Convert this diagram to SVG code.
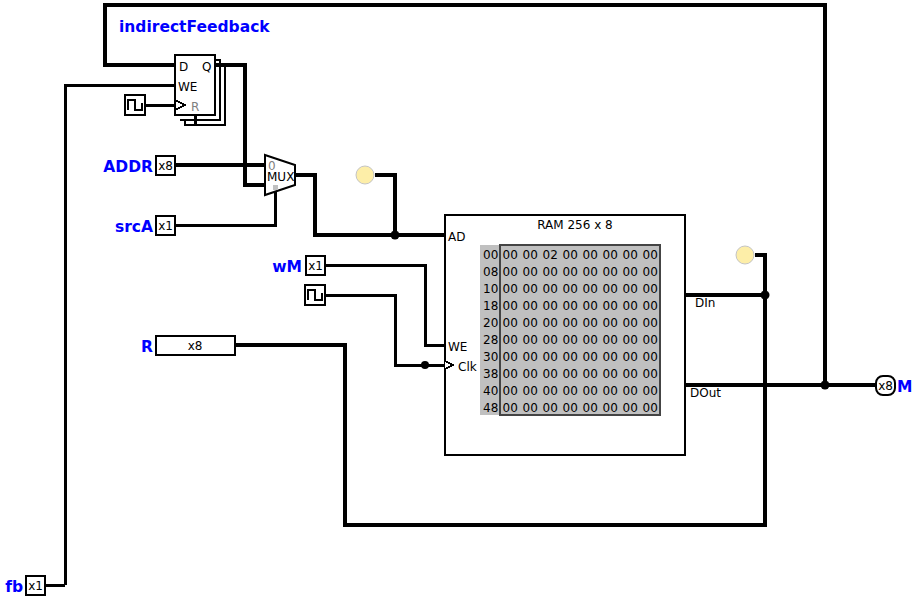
<svg xmlns="http://www.w3.org/2000/svg" width="918" height="601" viewBox="0 0 918 601">
<style>
.t{font-family:"DejaVu Sans",sans-serif;font-size:12px;fill:#000}
.m{text-anchor:middle}
.l{font-family:"DejaVu Sans",sans-serif;font-size:15.5px;fill:#0000ff;font-weight:700}
.e{text-anchor:end}
.mem{word-spacing:0.93px}
.b{fill:none;stroke:#000;stroke-width:4;shape-rendering:crispEdges}
.w{fill:none;stroke:#000;stroke-width:3;shape-rendering:crispEdges}
.box{fill:#fff;stroke:#000;stroke-width:2;shape-rendering:crispEdges}
.led{fill:#fdeea8;stroke:#c4c4c4;stroke-width:1}
.g{fill:#808080}
</style>
<defs>
<path id="clk" d="M3 15V5H10V15H17V8" fill="none" stroke="#000" stroke-width="2" shape-rendering="crispEdges"/>
</defs>
<g id="connectors">
<path class="b" d="M175 65H105V5H825V385"/>
<path class="b" d="M215 65H245V185H265"/>
<path class="w" d="M65 585V85H175"/>
<path class="w" d="M45 585H65"/>
<path class="w" d="M145 105H175"/>
<path class="b" d="M175 165H265"/>
<path class="w" d="M175 225H275V190"/>
<path class="b" d="M295 175H315V235H445"/>
<path class="b" d="M375 175H395V235"/>
<path class="w" d="M325 265H425V345H445"/>
<path class="w" d="M325 295H395V365H445"/>
<path class="b" d="M235 345H345V525H765V255H755"/>
<path class="b" d="M685 295H765"/>
<path class="b" d="M685 385H875"/>
<circle cx="395" cy="235" r="4.5"/>
<circle cx="425" cy="365" r="4"/>
<circle cx="765" cy="295" r="4.5"/>
<circle cx="825" cy="385" r="4.5"/>
</g>
<g id="indirectFeedback-label"><text class="l" x="119" y="32">indirectFeedback</text></g>
<g id="register">
<path class="w" d="M215 60H220V120H180M215 65H225V125H185V120" style="stroke-width:2"/>
<path d="M195 115V125" stroke="#000" stroke-width="3" fill="none" shape-rendering="crispEdges"/>
<rect class="box" x="175" y="55" width="40" height="60"/>
<path class="box" d="M175 100L185 105L175 110" style="fill:none"/>
<text class="t" x="179" y="71">D</text>
<text class="t" x="202" y="71">Q</text>
<text class="t" x="178" y="91">WE</text>
<text class="t g" x="191" y="111">R</text>
</g>
<g id="clock1"><rect class="box" x="125" y="95" width="20" height="20"/><use href="#clk" x="125" y="95"/></g>
<g id="ADDR"><rect class="box" x="156" y="156" width="19" height="19"/><text class="t m" x="165.500" y="170">x8</text><text class="l e" x="153" y="172">ADDR</text></g>
<g id="srcA"><rect class="box" x="156" y="216" width="19" height="19"/><text class="t m" x="165.500" y="230">x1</text><text class="l e" x="153" y="232">srcA</text></g>
<g id="mux">
<polygon points="265,155 295,165 295,185 265,195" fill="#fff" stroke="#000" stroke-width="2"/>
<text class="t g" x="268" y="170">0</text>
<text class="t" x="267" y="181">MUX</text>
<rect x="273" y="185" width="5" height="5" fill="#c0c0c0"/>
</g>
<g id="led1"><circle class="led" cx="365" cy="175" r="9"/></g>
<g id="led2"><circle class="led" cx="745" cy="255" r="9"/></g>
<g id="wM"><rect class="box" x="306" y="256" width="19" height="19"/><text class="t m" x="315.500" y="270">x1</text><text class="l e" x="302" y="272">wM</text></g>
<g id="clock2"><rect class="box" x="305" y="285" width="20" height="20"/><use href="#clk" x="305" y="285"/></g>
<g id="R"><rect class="box" x="156" y="336" width="79" height="19"/><text class="t m" x="195" y="350">x8</text><text class="l e" x="153" y="352">R</text></g>
<g id="fb"><rect class="box" x="26" y="576" width="19" height="19"/><text class="t m" x="35.500" y="590">x1</text><text class="l e" x="23" y="592">fb</text></g>
<g id="M"><rect x="876" y="376" width="19" height="19" rx="7" fill="#fff" stroke="#000" stroke-width="2"/><text class="t m" x="885.500" y="390">x8</text><text class="l" x="897" y="392">M</text></g>
<g id="ram">
<rect class="box" x="445" y="215" width="240" height="240" style="fill:none"/>
<text class="t m" x="575" y="229">RAM 256 x 8</text>
<text class="t" x="448" y="241">AD</text>
<text class="t" x="448" y="351">WE</text>
<path class="box" d="M445 361L453 365L445 369" style="fill:#fff"/>
<text class="t" x="458" y="371">Clk</text>
<text class="t" x="695" y="307">DIn</text>
<text class="t" x="690" y="397">DOut</text>
<rect x="480" y="245" width="180" height="170" fill="#c0c0c0"/>
<rect x="500" y="245" width="160" height="170" fill="none" stroke="#444" stroke-width="2" shape-rendering="crispEdges"/>
<text class="t" x="483" y="259">00</text><text class="t mem" x="502.500" y="259">00 00 02 00 00 00 00 00</text>
<text class="t" x="483" y="276">08</text><text class="t mem" x="502.500" y="276">00 00 00 00 00 00 00 00</text>
<text class="t" x="483" y="293">10</text><text class="t mem" x="502.500" y="293">00 00 00 00 00 00 00 00</text>
<text class="t" x="483" y="310">18</text><text class="t mem" x="502.500" y="310">00 00 00 00 00 00 00 00</text>
<text class="t" x="483" y="327">20</text><text class="t mem" x="502.500" y="327">00 00 00 00 00 00 00 00</text>
<text class="t" x="483" y="344">28</text><text class="t mem" x="502.500" y="344">00 00 00 00 00 00 00 00</text>
<text class="t" x="483" y="361">30</text><text class="t mem" x="502.500" y="361">00 00 00 00 00 00 00 00</text>
<text class="t" x="483" y="378">38</text><text class="t mem" x="502.500" y="378">00 00 00 00 00 00 00 00</text>
<text class="t" x="483" y="395">40</text><text class="t mem" x="502.500" y="395">00 00 00 00 00 00 00 00</text>
<text class="t" x="483" y="412">48</text><text class="t mem" x="502.500" y="412">00 00 00 00 00 00 00 00</text>
</g>
</svg>
